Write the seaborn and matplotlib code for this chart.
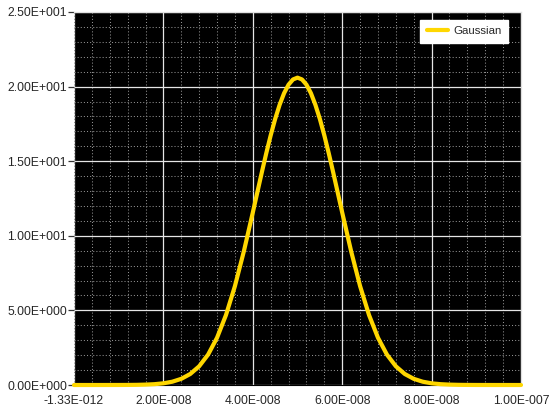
import numpy as np
import pandas as pd
import matplotlib
matplotlib.use("Agg")
import matplotlib.pyplot as plt
import seaborn as sns
from matplotlib.ticker import FixedLocator, MultipleLocator

# curve (x in units of 1E-008)
x_e8 = [0.0, 0.2, 0.4, 0.6, 0.8, 1.0, 1.2, 1.4, 1.6, 1.8,
        2.0, 2.2, 2.4, 2.6, 2.8, 3.0, 3.2, 3.4, 3.6, 3.8,
        4.0, 4.2, 4.3, 4.4, 4.5, 4.6, 4.7, 4.8, 4.9, 5.0,
        5.1, 5.2, 5.3, 5.4, 5.5, 5.6, 5.7, 5.8, 6.0, 6.2,
        6.4, 6.6, 6.8, 7.0, 7.2, 7.4, 7.6, 7.8, 8.0, 8.2,
        8.4, 8.6, 8.8, 9.0, 9.2, 9.4, 9.6, 9.8, 10.0]
gauss = [0.0, 0.0, 0.0, 0.0, 0.001, 0.002, 0.005, 0.011, 0.026, 0.055,
         0.113, 0.222, 0.414, 0.737, 1.255, 2.04, 3.17, 4.69, 6.63, 8.96,
         11.56, 14.23, 15.52, 16.73, 17.83, 18.78, 19.56, 20.13, 20.48, 20.60,
         20.48, 20.13, 19.56, 18.78, 17.83, 16.73, 15.52, 14.23, 11.56, 8.96,
         6.63, 4.69, 3.17, 2.04, 1.255, 0.737, 0.414, 0.222, 0.113, 0.055,
         0.026, 0.011, 0.005, 0.002, 0.001, 0.0, 0.0, 0.0, 0.0]

x_ticks = [-1.33e-12, 2e-8, 4e-8, 6e-8, 8e-8, 1e-7]
x_labels = ["-1.33E-012", "2.00E-008", "4.00E-008", "6.00E-008", "8.00E-008", "1.00E-007"]
y_ticks = [0, 5, 10, 15, 20, 25]
y_labels = ["0.00E+000", "5.00E+000", "1.00E+001", "1.50E+001", "2.00E+001", "2.50E+001"]

df = pd.DataFrame({"x": np.array(x_e8) * 1e-8, "y": gauss})

sns.set_style("ticks")
plt.rcParams["font.family"] = ["Liberation Sans", "DejaVu Sans"]

fig = plt.figure(figsize=(5.54, 4.12), dpi=100)
ax = fig.add_axes([74 / 554, 1 - 385 / 412, 447 / 554, 373 / 412])
ax.set_facecolor("black")

ax.set_xlim(-1.33e-12, 1e-7)
ax.set_ylim(0, 25)

ax.xaxis.set_major_locator(FixedLocator(x_ticks))
ax.set_xticklabels(x_labels)
ax.xaxis.set_minor_locator(MultipleLocator(4e-9))
ax.set_yticks(y_ticks)
ax.set_yticklabels(y_labels)
ax.yaxis.set_minor_locator(MultipleLocator(1))

ax.grid(which="minor", color="#909090", linestyle=(0, (1, 2)), linewidth=0.75)
ax.grid(which="major", color="#e6e6e6", linestyle="-", linewidth=0.9)
ax.set_axisbelow(True)

sns.lineplot(data=df, x="x", y="y", ax=ax, color="#ffd700", linewidth=3.0,
             label="Gaussian", clip_on=False, zorder=5)

ax.set_xlabel("")
ax.set_ylabel("")
ax.tick_params(axis="x", which="both", length=0, pad=7, labelsize=8.7)
ax.tick_params(axis="y", which="major", length=4, width=0.9, color="#333333", pad=1, labelsize=8.7)
ax.tick_params(axis="y", which="minor", length=0)

for s in ["top", "right"]:
    ax.spines[s].set_color("#e0e0e0")
    ax.spines[s].set_linewidth(0.9)
ax.spines["left"].set_visible(False)
ax.spines["bottom"].set_color("black")

leg = ax.legend(loc="upper right", bbox_to_anchor=(508 / 554, 1 - 20 / 412),
                bbox_transform=fig.transFigure, borderaxespad=0, fancybox=False,
                framealpha=1, facecolor="white", edgecolor="white",
                fontsize=8.2, handlelength=1.9, handletextpad=0.45,
                borderpad=0.55)
for line in leg.get_lines():
    line.set_linewidth(3.0)

fig.savefig("out.png", dpi=100)
